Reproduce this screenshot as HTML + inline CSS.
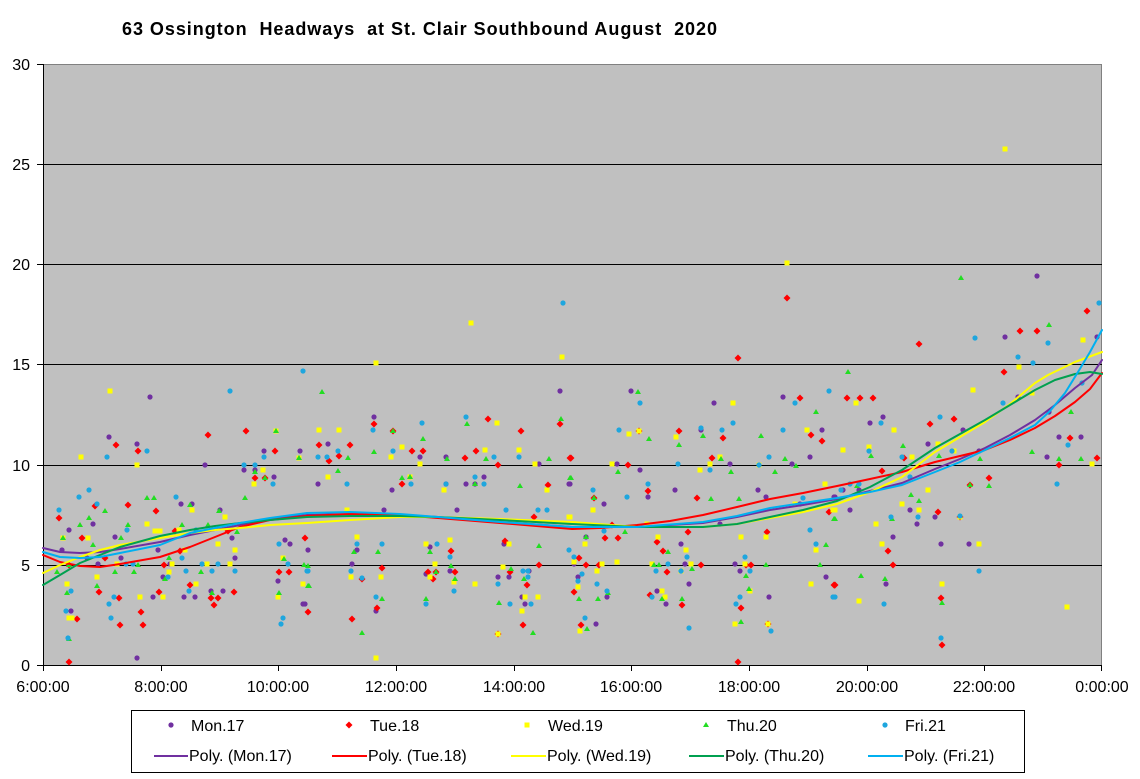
<!DOCTYPE html>
<html><head><meta charset="utf-8"><style>
html,body{margin:0;padding:0;background:#fff;}
svg{display:block;font-family:"Liberation Sans",Arial,sans-serif;}
</style></head><body>
<svg width="1140" height="779" viewBox="0 0 1140 779" xmlns="http://www.w3.org/2000/svg">
<rect x="0" y="0" width="1140" height="779" fill="#fff"/>
<text x="122" y="35" font-size="18" font-weight="bold" textLength="595" lengthAdjust="spacing" xml:space="preserve">63 Ossington  Headways  at St. Clair Southbound August  2020</text>
<rect x="43" y="64" width="1059" height="601" fill="#C0C0C0"/>
<g shape-rendering="crispEdges">
<line x1="43" y1="64.5" x2="1102" y2="64.5" stroke="#808080"/>
<line x1="1101.5" y1="64" x2="1101.5" y2="665" stroke="#808080"/>
<line x1="43" y1="164.5" x2="1102" y2="164.5" stroke="#000"/>
<line x1="43" y1="264.5" x2="1102" y2="264.5" stroke="#000"/>
<line x1="43" y1="364.5" x2="1102" y2="364.5" stroke="#000"/>
<line x1="43" y1="465.5" x2="1102" y2="465.5" stroke="#000"/>
<line x1="43" y1="565.5" x2="1102" y2="565.5" stroke="#000"/>
<line x1="43.5" y1="64" x2="43.5" y2="666" stroke="#000"/>
<line x1="43" y1="665.5" x2="1102" y2="665.5" stroke="#000"/>
<path d="M37 64.5h6M37 164.5h6M37 264.5h6M37 364.5h6M37 465.5h6M37 565.5h6M37 665.5h6" stroke="#000"/>
<path d="M43.5 665v6M161.5 665v6M278.5 665v6M396.5 665v6M514.5 665v6M631.5 665v6M749.5 665v6M867.5 665v6M984.5 665v6M1101.5 665v6" stroke="#000"/>
</g>
<g font-size="16" text-anchor="end">
<text x="30" y="70">30</text><text x="30" y="170">25</text><text x="30" y="270">20</text><text x="30" y="370">15</text><text x="30" y="471">10</text><text x="30" y="571">5</text><text x="30" y="671">0</text>
</g>
<g font-size="16" text-anchor="middle">
<text x="43" y="692">6:00:00</text><text x="161" y="692">8:00:00</text><text x="278" y="692">10:00:00</text><text x="396" y="692">12:00:00</text><text x="514" y="692">14:00:00</text><text x="631" y="692">16:00:00</text><text x="749" y="692">18:00:00</text><text x="867" y="692">20:00:00</text><text x="984" y="692">22:00:00</text><text x="1102" y="692">0:00:00</text>
</g>

<!-- Mon purple -->
<g fill="#7030A0">
<circle cx="150" cy="397" r="2.6"/><circle cx="109" cy="437" r="2.6"/><circle cx="137" cy="444" r="2.6"/><circle cx="264" cy="451" r="2.6"/><circle cx="300" cy="451" r="2.6"/><circle cx="205" cy="465" r="2.6"/><circle cx="244" cy="470" r="2.6"/><circle cx="255" cy="470" r="2.6"/><circle cx="274" cy="477" r="2.6"/><circle cx="181" cy="504" r="2.6"/><circle cx="192" cy="504" r="2.6"/><circle cx="220" cy="510" r="2.6"/><circle cx="93" cy="524" r="2.6"/><circle cx="69" cy="530" r="2.6"/><circle cx="115" cy="537" r="2.6"/><circle cx="232" cy="538" r="2.6"/><circle cx="285" cy="540" r="2.6"/><circle cx="290" cy="544" r="2.6"/><circle cx="62" cy="550" r="2.6"/><circle cx="158" cy="550" r="2.6"/><circle cx="308" cy="550" r="2.6"/><circle cx="87" cy="558" r="2.6"/><circle cx="121" cy="558" r="2.6"/><circle cx="235" cy="558" r="2.6"/><circle cx="98" cy="564" r="2.6"/><circle cx="170" cy="564" r="2.6"/><circle cx="163" cy="577" r="2.6"/><circle cx="278" cy="581" r="2.6"/><circle cx="211" cy="591" r="2.6"/><circle cx="223" cy="591" r="2.6"/><circle cx="153" cy="597" r="2.6"/><circle cx="184" cy="597" r="2.6"/><circle cx="195" cy="597" r="2.6"/><circle cx="303" cy="604" r="2.6"/><circle cx="71" cy="611" r="2.6"/><circle cx="137" cy="658" r="2.6"/>
<circle cx="560" cy="391" r="2.6"/><circle cx="374" cy="417" r="2.6"/><circle cx="328" cy="444" r="2.6"/><circle cx="420" cy="457" r="2.6"/><circle cx="446" cy="457" r="2.6"/><circle cx="539" cy="464" r="2.6"/><circle cx="410" cy="477" r="2.6"/><circle cx="484" cy="477" r="2.6"/><circle cx="318" cy="484" r="2.6"/><circle cx="446" cy="484" r="2.6"/><circle cx="466" cy="484" r="2.6"/><circle cx="475" cy="484" r="2.6"/><circle cx="569" cy="484" r="2.6"/><circle cx="392" cy="490" r="2.6"/><circle cx="384" cy="510" r="2.6"/><circle cx="457" cy="510" r="2.6"/><circle cx="357" cy="550" r="2.6"/><circle cx="430" cy="547" r="2.6"/><circle cx="504" cy="544" r="2.6"/><circle cx="352" cy="564" r="2.6"/><circle cx="426" cy="574" r="2.6"/><circle cx="450" cy="571" r="2.6"/><circle cx="529" cy="571" r="2.6"/><circle cx="498" cy="577" r="2.6"/><circle cx="509" cy="577" r="2.6"/><circle cx="522" cy="597" r="2.6"/><circle cx="525" cy="604" r="2.6"/><circle cx="305" cy="604" r="2.6"/><circle cx="376" cy="611" r="2.6"/>
<circle cx="631" cy="391" r="2.6"/><circle cx="714" cy="403" r="2.6"/><circle cx="783" cy="397" r="2.6"/><circle cx="701" cy="430" r="2.6"/><circle cx="822" cy="430" r="2.6"/><circle cx="617" cy="464" r="2.6"/><circle cx="640" cy="470" r="2.6"/><circle cx="730" cy="464" r="2.6"/><circle cx="810" cy="457" r="2.6"/><circle cx="792" cy="464" r="2.6"/><circle cx="570" cy="484" r="2.6"/><circle cx="604" cy="504" r="2.6"/><circle cx="648" cy="497" r="2.6"/><circle cx="675" cy="490" r="2.6"/><circle cx="758" cy="490" r="2.6"/><circle cx="766" cy="497" r="2.6"/><circle cx="800" cy="504" r="2.6"/><circle cx="834" cy="497" r="2.6"/><circle cx="720" cy="524" r="2.6"/><circle cx="586" cy="537" r="2.6"/><circle cx="681" cy="544" r="2.6"/><circle cx="574" cy="564" r="2.6"/><circle cx="685" cy="564" r="2.6"/><circle cx="735" cy="564" r="2.6"/><circle cx="740" cy="571" r="2.6"/><circle cx="826" cy="577" r="2.6"/><circle cx="578" cy="577" r="2.6"/><circle cx="689" cy="584" r="2.6"/><circle cx="607" cy="597" r="2.6"/><circle cx="657" cy="591" r="2.6"/><circle cx="666" cy="604" r="2.6"/><circle cx="769" cy="597" r="2.6"/><circle cx="596" cy="624" r="2.6"/>
<circle cx="1018" cy="397" r="2.6"/><circle cx="883" cy="417" r="2.6"/><circle cx="870" cy="423" r="2.6"/><circle cx="963" cy="430" r="2.6"/><circle cx="1049" cy="412" r="2.6"/><circle cx="928" cy="444" r="2.6"/><circle cx="979" cy="451" r="2.6"/><circle cx="1059" cy="437" r="2.6"/><circle cx="1081" cy="437" r="2.6"/><circle cx="1047" cy="457" r="2.6"/><circle cx="843" cy="490" r="2.6"/><circle cx="859" cy="490" r="2.6"/><circle cx="835" cy="497" r="2.6"/><circle cx="850" cy="510" r="2.6"/><circle cx="910" cy="510" r="2.6"/><circle cx="935" cy="517" r="2.6"/><circle cx="917" cy="524" r="2.6"/><circle cx="893" cy="537" r="2.6"/><circle cx="941" cy="544" r="2.6"/><circle cx="969" cy="544" r="2.6"/><circle cx="886" cy="584" r="2.6"/>
<circle cx="1037" cy="276" r="2.6"/><circle cx="1005" cy="337" r="2.6"/><circle cx="1097" cy="337" r="2.6"/>
</g>

<!-- Tue red diamonds -->
<path fill="#FF0000" d="
M116 441.5l3.5 3.5-3.5 3.5-3.5-3.5zM138 447.5l3.5 3.5-3.5 3.5-3.5-3.5zM208 431.5l3.5 3.5-3.5 3.5-3.5-3.5zM246 427.5l3.5 3.5-3.5 3.5-3.5-3.5zM275 447.5l3.5 3.5-3.5 3.5-3.5-3.5zM255 474.5l3.5 3.5-3.5 3.5-3.5-3.5zM265 474.5l3.5 3.5-3.5 3.5-3.5-3.5zM95 502.5l3.5 3.5-3.5 3.5-3.5-3.5zM128 501.5l3.5 3.5-3.5 3.5-3.5-3.5zM59 514.5l3.5 3.5-3.5 3.5-3.5-3.5zM156 507.5l3.5 3.5-3.5 3.5-3.5-3.5zM175 527.5l3.5 3.5-3.5 3.5-3.5-3.5zM82 534.5l3.5 3.5-3.5 3.5-3.5-3.5zM228 527.5l3.5 3.5-3.5 3.5-3.5-3.5zM305 534.5l3.5 3.5-3.5 3.5-3.5-3.5zM180 547.5l3.5 3.5-3.5 3.5-3.5-3.5zM105 554.5l3.5 3.5-3.5 3.5-3.5-3.5zM164 561.5l3.5 3.5-3.5 3.5-3.5-3.5zM69 561.5l3.5 3.5-3.5 3.5-3.5-3.5zM279 568.5l3.5 3.5-3.5 3.5-3.5-3.5zM289 568.5l3.5 3.5-3.5 3.5-3.5-3.5zM99 588.5l3.5 3.5-3.5 3.5-3.5-3.5zM159 588.5l3.5 3.5-3.5 3.5-3.5-3.5zM190 581.5l3.5 3.5-3.5 3.5-3.5-3.5zM234 588.5l3.5 3.5-3.5 3.5-3.5-3.5zM119 594.5l3.5 3.5-3.5 3.5-3.5-3.5zM211 594.5l3.5 3.5-3.5 3.5-3.5-3.5zM218 594.5l3.5 3.5-3.5 3.5-3.5-3.5zM214 601.5l3.5 3.5-3.5 3.5-3.5-3.5zM141 608.5l3.5 3.5-3.5 3.5-3.5-3.5zM308 608.5l3.5 3.5-3.5 3.5-3.5-3.5zM77 615.5l3.5 3.5-3.5 3.5-3.5-3.5zM120 621.5l3.5 3.5-3.5 3.5-3.5-3.5zM143 621.5l3.5 3.5-3.5 3.5-3.5-3.5zM69 658.5l3.5 3.5-3.5 3.5-3.5-3.5z
M374 420.5l3.5 3.5-3.5 3.5-3.5-3.5zM488 415.5l3.5 3.5-3.5 3.5-3.5-3.5zM560 420.5l3.5 3.5-3.5 3.5-3.5-3.5zM393 427.5l3.5 3.5-3.5 3.5-3.5-3.5zM521 427.5l3.5 3.5-3.5 3.5-3.5-3.5zM319 441.5l3.5 3.5-3.5 3.5-3.5-3.5zM350 441.5l3.5 3.5-3.5 3.5-3.5-3.5zM412 447.5l3.5 3.5-3.5 3.5-3.5-3.5zM423 447.5l3.5 3.5-3.5 3.5-3.5-3.5zM476 447.5l3.5 3.5-3.5 3.5-3.5-3.5zM339 452.5l3.5 3.5-3.5 3.5-3.5-3.5zM465 454.5l3.5 3.5-3.5 3.5-3.5-3.5zM570 454.5l3.5 3.5-3.5 3.5-3.5-3.5zM329 457.5l3.5 3.5-3.5 3.5-3.5-3.5zM498 461.5l3.5 3.5-3.5 3.5-3.5-3.5zM402 480.5l3.5 3.5-3.5 3.5-3.5-3.5zM548 481.5l3.5 3.5-3.5 3.5-3.5-3.5zM534 513.5l3.5 3.5-3.5 3.5-3.5-3.5zM451 547.5l3.5 3.5-3.5 3.5-3.5-3.5zM505 537.5l3.5 3.5-3.5 3.5-3.5-3.5zM382 564.5l3.5 3.5-3.5 3.5-3.5-3.5zM539 561.5l3.5 3.5-3.5 3.5-3.5-3.5zM362 575.5l3.5 3.5-3.5 3.5-3.5-3.5zM428 568.5l3.5 3.5-3.5 3.5-3.5-3.5zM436 568.5l3.5 3.5-3.5 3.5-3.5-3.5zM455 568.5l3.5 3.5-3.5 3.5-3.5-3.5zM433 575.5l3.5 3.5-3.5 3.5-3.5-3.5zM510 568.5l3.5 3.5-3.5 3.5-3.5-3.5zM527 581.5l3.5 3.5-3.5 3.5-3.5-3.5zM574 588.5l3.5 3.5-3.5 3.5-3.5-3.5zM377 604.5l3.5 3.5-3.5 3.5-3.5-3.5zM352 615.5l3.5 3.5-3.5 3.5-3.5-3.5zM523 621.5l3.5 3.5-3.5 3.5-3.5-3.5zM498 630.5l3.5 3.5-3.5 3.5-3.5-3.5z
M800 394.5l3.5 3.5-3.5 3.5-3.5-3.5zM639 427.5l3.5 3.5-3.5 3.5-3.5-3.5zM679 427.5l3.5 3.5-3.5 3.5-3.5-3.5zM723 434.5l3.5 3.5-3.5 3.5-3.5-3.5zM811 431.5l3.5 3.5-3.5 3.5-3.5-3.5zM822 437.5l3.5 3.5-3.5 3.5-3.5-3.5zM571 454.5l3.5 3.5-3.5 3.5-3.5-3.5zM628 461.5l3.5 3.5-3.5 3.5-3.5-3.5zM712 454.5l3.5 3.5-3.5 3.5-3.5-3.5zM594 494.5l3.5 3.5-3.5 3.5-3.5-3.5zM648 487.5l3.5 3.5-3.5 3.5-3.5-3.5zM697 494.5l3.5 3.5-3.5 3.5-3.5-3.5zM829 508.5l3.5 3.5-3.5 3.5-3.5-3.5zM612 521.5l3.5 3.5-3.5 3.5-3.5-3.5zM688 528.5l3.5 3.5-3.5 3.5-3.5-3.5zM605 534.5l3.5 3.5-3.5 3.5-3.5-3.5zM618 534.5l3.5 3.5-3.5 3.5-3.5-3.5zM657 538.5l3.5 3.5-3.5 3.5-3.5-3.5zM767 528.5l3.5 3.5-3.5 3.5-3.5-3.5zM663 547.5l3.5 3.5-3.5 3.5-3.5-3.5zM579 554.5l3.5 3.5-3.5 3.5-3.5-3.5zM586 561.5l3.5 3.5-3.5 3.5-3.5-3.5zM599 561.5l3.5 3.5-3.5 3.5-3.5-3.5zM701 561.5l3.5 3.5-3.5 3.5-3.5-3.5zM746 561.5l3.5 3.5-3.5 3.5-3.5-3.5zM751 561.5l3.5 3.5-3.5 3.5-3.5-3.5zM667 568.5l3.5 3.5-3.5 3.5-3.5-3.5zM834 581.5l3.5 3.5-3.5 3.5-3.5-3.5zM650 591.5l3.5 3.5-3.5 3.5-3.5-3.5zM682 601.5l3.5 3.5-3.5 3.5-3.5-3.5zM741 604.5l3.5 3.5-3.5 3.5-3.5-3.5zM581 621.5l3.5 3.5-3.5 3.5-3.5-3.5zM768 620.5l3.5 3.5-3.5 3.5-3.5-3.5zM738 658.5l3.5 3.5-3.5 3.5-3.5-3.5z
M1004 368.5l3.5 3.5-3.5 3.5-3.5-3.5zM847 394.5l3.5 3.5-3.5 3.5-3.5-3.5zM860 394.5l3.5 3.5-3.5 3.5-3.5-3.5zM873 394.5l3.5 3.5-3.5 3.5-3.5-3.5zM954 415.5l3.5 3.5-3.5 3.5-3.5-3.5zM930 420.5l3.5 3.5-3.5 3.5-3.5-3.5zM904 454.5l3.5 3.5-3.5 3.5-3.5-3.5zM1070 434.5l3.5 3.5-3.5 3.5-3.5-3.5zM1097 454.5l3.5 3.5-3.5 3.5-3.5-3.5zM1059 461.5l3.5 3.5-3.5 3.5-3.5-3.5zM882 467.5l3.5 3.5-3.5 3.5-3.5-3.5zM989 474.5l3.5 3.5-3.5 3.5-3.5-3.5zM970 481.5l3.5 3.5-3.5 3.5-3.5-3.5zM938 508.5l3.5 3.5-3.5 3.5-3.5-3.5zM960 513.5l3.5 3.5-3.5 3.5-3.5-3.5zM888 547.5l3.5 3.5-3.5 3.5-3.5-3.5zM893 561.5l3.5 3.5-3.5 3.5-3.5-3.5zM835 581.5l3.5 3.5-3.5 3.5-3.5-3.5zM941 594.5l3.5 3.5-3.5 3.5-3.5-3.5zM942 641.5l3.5 3.5-3.5 3.5-3.5-3.5z
M1087 307.5l3.5 3.5-3.5 3.5-3.5-3.5zM1020 327.5l3.5 3.5-3.5 3.5-3.5-3.5zM1037 327.5l3.5 3.5-3.5 3.5-3.5-3.5zM919 340.5l3.5 3.5-3.5 3.5-3.5-3.5zM787 294.5l3.5 3.5-3.5 3.5-3.5-3.5zM738 354.5l3.5 3.5-3.5 3.5-3.5-3.5z"/>

<!-- Wed yellow squares -->
<path fill="#FFFF00" d="
M107.5 388.5h5v5h-5zM78.5 454.5h5v5h-5zM273.5 428.5h5v5h-5zM134.5 462.5h5v5h-5zM260.5 467.5h5v5h-5zM251.5 481.5h5v5h-5zM189.5 507.5h5v5h-5zM222.5 514.5h5v5h-5zM144.5 521.5h5v5h-5zM152.5 528.5h5v5h-5zM157.5 528.5h5v5h-5zM176.5 527.5h5v5h-5zM85.5 535.5h5v5h-5zM60.5 535.5h5v5h-5zM215.5 541.5h5v5h-5zM182.5 547.5h5v5h-5zM232.5 547.5h5v5h-5zM280.5 555.5h5v5h-5zM114.5 561.5h5v5h-5zM169.5 561.5h5v5h-5zM204.5 561.5h5v5h-5zM227.5 561.5h5v5h-5zM166.5 569.5h5v5h-5zM94.5 574.5h5v5h-5zM300.5 581.5h5v5h-5zM64.5 581.5h5v5h-5zM193.5 581.5h5v5h-5zM137.5 594.5h5v5h-5zM160.5 594.5h5v5h-5zM275.5 594.5h5v5h-5zM66.5 615.5h5v5h-5zM69.5 615.5h5v5h-5zM296.5 455.5h5v5h-5z
M316.5 427.5h5v5h-5zM336.5 427.5h5v5h-5zM494.5 420.5h5v5h-5zM399.5 444.5h5v5h-5zM482.5 447.5h5v5h-5zM516.5 447.5h5v5h-5zM388.5 454.5h5v5h-5zM417.5 461.5h5v5h-5zM532.5 461.5h5v5h-5zM325.5 474.5h5v5h-5zM407.5 474.5h5v5h-5zM441.5 487.5h5v5h-5zM544.5 487.5h5v5h-5zM344.5 507.5h5v5h-5zM566.5 514.5h5v5h-5zM354.5 534.5h5v5h-5zM423.5 541.5h5v5h-5zM447.5 537.5h5v5h-5zM506.5 541.5h5v5h-5zM432.5 561.5h5v5h-5zM571.5 559.5h5v5h-5zM348.5 574.5h5v5h-5zM378.5 574.5h5v5h-5zM427.5 574.5h5v5h-5zM451.5 579.5h5v5h-5zM500.5 564.5h5v5h-5zM472.5 581.5h5v5h-5zM522.5 594.5h5v5h-5zM535.5 594.5h5v5h-5zM519.5 608.5h5v5h-5zM495.5 631.5h5v5h-5zM373.5 655.5h5v5h-5z
M730.5 400.5h5v5h-5zM626.5 431.5h5v5h-5zM636.5 428.5h5v5h-5zM673.5 434.5h5v5h-5zM804.5 427.5h5v5h-5zM609.5 461.5h5v5h-5zM717.5 454.5h5v5h-5zM707.5 461.5h5v5h-5zM697.5 467.5h5v5h-5zM756.5 462.5h5v5h-5zM590.5 507.5h5v5h-5zM792.5 501.5h5v5h-5zM822.5 481.5h5v5h-5zM830.5 507.5h5v5h-5zM567.5 514.5h5v5h-5zM644.5 521.5h5v5h-5zM655.5 534.5h5v5h-5zM738.5 534.5h5v5h-5zM763.5 534.5h5v5h-5zM582.5 541.5h5v5h-5zM683.5 547.5h5v5h-5zM813.5 547.5h5v5h-5zM599.5 561.5h5v5h-5zM614.5 559.5h5v5h-5zM649.5 561.5h5v5h-5zM688.5 561.5h5v5h-5zM742.5 561.5h5v5h-5zM594.5 568.5h5v5h-5zM678.5 568.5h5v5h-5zM808.5 581.5h5v5h-5zM575.5 584.5h5v5h-5zM747.5 588.5h5v5h-5zM659.5 588.5h5v5h-5zM662.5 594.5h5v5h-5zM732.5 621.5h5v5h-5zM765.5 621.5h5v5h-5zM577.5 628.5h5v5h-5z
M853.5 400.5h5v5h-5zM970.5 387.5h5v5h-5zM1029.5 390.5h5v5h-5zM840.5 447.5h5v5h-5zM866.5 444.5h5v5h-5zM891.5 427.5h5v5h-5zM909.5 454.5h5v5h-5zM935.5 441.5h5v5h-5zM951.5 448.5h5v5h-5zM1089.5 461.5h5v5h-5zM925.5 487.5h5v5h-5zM899.5 501.5h5v5h-5zM832.5 507.5h5v5h-5zM916.5 507.5h5v5h-5zM957.5 514.5h5v5h-5zM873.5 521.5h5v5h-5zM879.5 541.5h5v5h-5zM976.5 541.5h5v5h-5zM939.5 581.5h5v5h-5zM856.5 598.5h5v5h-5zM1064.5 604.5h5v5h-5z
M1002.5 146.5h5v5h-5zM1080.5 337.5h5v5h-5zM1016.5 364.5h5v5h-5zM373.5 360.5h5v5h-5zM784.5 260.5h5v5h-5zM468.5 320.5h5v5h-5zM559.5 354.5h5v5h-5z"/>

<!-- Thu green triangles -->
<path fill="#22DD22" d="
M276 428l3 5h-6zM255 469l3 5h-6zM265 475l3 5h-6zM147 495l3 5h-6zM154 495l3 5h-6zM245 495l3 5h-6zM190 502l3 5h-6zM105 508l3 5h-6zM219 508l3 5h-6zM89 515l3 5h-6zM80 522l3 5h-6zM128 522l3 5h-6zM182 522l3 5h-6zM208 522l3 5h-6zM237 529l3 5h-6zM63 535l3 5h-6zM121 535l3 5h-6zM93 542l3 5h-6zM284 556l3 5h-6zM169 555l3 5h-6zM138 562l3 5h-6zM304 562l3 5h-6zM69 562l3 5h-6zM57 569l3 5h-6zM115 569l3 5h-6zM134 569l3 5h-6zM201 569l3 5h-6zM165 576l3 5h-6zM97 583l3 5h-6zM309 583l3 5h-6zM67 590l3 5h-6zM212 590l3 5h-6zM279 590l3 5h-6zM299 455l3 5h-6zM69 636l3 5h-6z
M322 389l3 5h-6zM467 421l3 5h-6zM561 416l3 5h-6zM393 428l3 5h-6zM423 436l3 5h-6zM374 449l3 5h-6zM348 455l3 5h-6zM447 456l3 5h-6zM486 456l3 5h-6zM549 456l3 5h-6zM338 468l3 5h-6zM402 475l3 5h-6zM410 474l3 5h-6zM570 475l3 5h-6zM475 481l3 5h-6zM520 483l3 5h-6zM539 543l3 5h-6zM354 549l3 5h-6zM378 549l3 5h-6zM430 549l3 5h-6zM308 563l3 5h-6zM451 563l3 5h-6zM436 569l3 5h-6zM455 576l3 5h-6zM511 566l3 5h-6zM524 576l3 5h-6zM308 583l3 5h-6zM382 596l3 5h-6zM426 596l3 5h-6zM499 600l3 5h-6zM362 630l3 5h-6zM533 630l3 5h-6z
M638 389l3 5h-6zM816 409l3 5h-6zM649 436l3 5h-6zM679 442l3 5h-6zM703 433l3 5h-6zM761 433l3 5h-6zM721 456l3 5h-6zM618 469l3 5h-6zM731 469l3 5h-6zM775 469l3 5h-6zM785 456l3 5h-6zM796 463l3 5h-6zM571 475l3 5h-6zM594 495l3 5h-6zM711 496l3 5h-6zM739 496l3 5h-6zM834 516l3 5h-6zM625 529l3 5h-6zM586 534l3 5h-6zM826 542l3 5h-6zM668 549l3 5h-6zM654 562l3 5h-6zM659 562l3 5h-6zM692 566l3 5h-6zM766 562l3 5h-6zM820 562l3 5h-6zM746 573l3 5h-6zM749 586l3 5h-6zM579 596l3 5h-6zM598 596l3 5h-6zM608 590l3 5h-6zM662 596l3 5h-6zM682 596l3 5h-6zM741 619l3 5h-6zM587 626l3 5h-6z
M848 369l3 5h-6zM871 453l3 5h-6zM903 443l3 5h-6zM939 453l3 5h-6zM980 456l3 5h-6zM1032 449l3 5h-6zM1059 456l3 5h-6zM1081 456l3 5h-6zM1071 409l3 5h-6zM970 482l3 5h-6zM989 483l3 5h-6zM857 483l3 5h-6zM911 492l3 5h-6zM919 498l3 5h-6zM892 516l3 5h-6zM835 516l3 5h-6zM861 573l3 5h-6zM885 576l3 5h-6zM942 600l3 5h-6z
M961 275l3 5h-6zM1049 322l3 5h-6z"/>

<!-- Fri cyan -->
<g fill="#1EA6DE">
<circle cx="230" cy="391" r="2.6"/><circle cx="303" cy="371" r="2.6"/><circle cx="147" cy="451" r="2.6"/><circle cx="107" cy="457" r="2.6"/><circle cx="264" cy="457" r="2.6"/><circle cx="244" cy="465" r="2.6"/><circle cx="255" cy="465" r="2.6"/><circle cx="273" cy="484" r="2.6"/><circle cx="89" cy="490" r="2.6"/><circle cx="79" cy="497" r="2.6"/><circle cx="176" cy="497" r="2.6"/><circle cx="97" cy="504" r="2.6"/><circle cx="59" cy="510" r="2.6"/><circle cx="127" cy="530" r="2.6"/><circle cx="196" cy="530" r="2.6"/><circle cx="279" cy="544" r="2.6"/><circle cx="182" cy="558" r="2.6"/><circle cx="126" cy="564" r="2.6"/><circle cx="133" cy="564" r="2.6"/><circle cx="202" cy="564" r="2.6"/><circle cx="218" cy="564" r="2.6"/><circle cx="288" cy="564" r="2.6"/><circle cx="186" cy="571" r="2.6"/><circle cx="212" cy="571" r="2.6"/><circle cx="235" cy="571" r="2.6"/><circle cx="307" cy="571" r="2.6"/><circle cx="168" cy="577" r="2.6"/><circle cx="71" cy="591" r="2.6"/><circle cx="189" cy="591" r="2.6"/><circle cx="114" cy="597" r="2.6"/><circle cx="109" cy="604" r="2.6"/><circle cx="66" cy="611" r="2.6"/><circle cx="111" cy="618" r="2.6"/><circle cx="283" cy="618" r="2.6"/><circle cx="281" cy="624" r="2.6"/><circle cx="68" cy="638" r="2.6"/>
<circle cx="466" cy="417" r="2.6"/><circle cx="422" cy="423" r="2.6"/><circle cx="373" cy="430" r="2.6"/><circle cx="338" cy="451" r="2.6"/><circle cx="393" cy="451" r="2.6"/><circle cx="318" cy="457" r="2.6"/><circle cx="327" cy="457" r="2.6"/><circle cx="494" cy="457" r="2.6"/><circle cx="519" cy="457" r="2.6"/><circle cx="475" cy="477" r="2.6"/><circle cx="347" cy="484" r="2.6"/><circle cx="411" cy="484" r="2.6"/><circle cx="446" cy="484" r="2.6"/><circle cx="484" cy="484" r="2.6"/><circle cx="506" cy="510" r="2.6"/><circle cx="538" cy="510" r="2.6"/><circle cx="547" cy="510" r="2.6"/><circle cx="357" cy="544" r="2.6"/><circle cx="382" cy="544" r="2.6"/><circle cx="437" cy="544" r="2.6"/><circle cx="569" cy="550" r="2.6"/><circle cx="450" cy="557" r="2.6"/><circle cx="308" cy="571" r="2.6"/><circle cx="351" cy="571" r="2.6"/><circle cx="362" cy="578" r="2.6"/><circle cx="523" cy="571" r="2.6"/><circle cx="528" cy="571" r="2.6"/><circle cx="528" cy="577" r="2.6"/><circle cx="498" cy="584" r="2.6"/><circle cx="454" cy="591" r="2.6"/><circle cx="376" cy="597" r="2.6"/><circle cx="426" cy="604" r="2.6"/><circle cx="510" cy="604" r="2.6"/><circle cx="531" cy="604" r="2.6"/>
<circle cx="640" cy="403" r="2.6"/><circle cx="795" cy="403" r="2.6"/><circle cx="829" cy="391" r="2.6"/><circle cx="619" cy="430" r="2.6"/><circle cx="701" cy="428" r="2.6"/><circle cx="722" cy="430" r="2.6"/><circle cx="733" cy="423" r="2.6"/><circle cx="783" cy="430" r="2.6"/><circle cx="678" cy="464" r="2.6"/><circle cx="710" cy="470" r="2.6"/><circle cx="759" cy="465" r="2.6"/><circle cx="769" cy="457" r="2.6"/><circle cx="593" cy="490" r="2.6"/><circle cx="627" cy="497" r="2.6"/><circle cx="648" cy="484" r="2.6"/><circle cx="803" cy="498" r="2.6"/><circle cx="604" cy="531" r="2.6"/><circle cx="810" cy="530" r="2.6"/><circle cx="816" cy="544" r="2.6"/><circle cx="687" cy="557" r="2.6"/><circle cx="745" cy="557" r="2.6"/><circle cx="574" cy="557" r="2.6"/><circle cx="668" cy="564" r="2.6"/><circle cx="582" cy="574" r="2.6"/><circle cx="578" cy="581" r="2.6"/><circle cx="656" cy="571" r="2.6"/><circle cx="681" cy="571" r="2.6"/><circle cx="750" cy="571" r="2.6"/><circle cx="597" cy="584" r="2.6"/><circle cx="607" cy="591" r="2.6"/><circle cx="652" cy="597" r="2.6"/><circle cx="740" cy="597" r="2.6"/><circle cx="736" cy="604" r="2.6"/><circle cx="833" cy="597" r="2.6"/><circle cx="585" cy="618" r="2.6"/><circle cx="689" cy="628" r="2.6"/><circle cx="771" cy="631" r="2.6"/>
<circle cx="1003" cy="403" r="2.6"/><circle cx="1082" cy="383" r="2.6"/><circle cx="881" cy="423" r="2.6"/><circle cx="940" cy="417" r="2.6"/><circle cx="869" cy="451" r="2.6"/><circle cx="902" cy="457" r="2.6"/><circle cx="952" cy="451" r="2.6"/><circle cx="1068" cy="445" r="2.6"/><circle cx="910" cy="477" r="2.6"/><circle cx="1057" cy="484" r="2.6"/><circle cx="850" cy="484" r="2.6"/><circle cx="859" cy="484" r="2.6"/><circle cx="841" cy="490" r="2.6"/><circle cx="891" cy="517" r="2.6"/><circle cx="918" cy="517" r="2.6"/><circle cx="960" cy="516" r="2.6"/><circle cx="979" cy="571" r="2.6"/><circle cx="835" cy="597" r="2.6"/><circle cx="884" cy="604" r="2.6"/><circle cx="941" cy="638" r="2.6"/>
<circle cx="1099" cy="303" r="2.6"/><circle cx="975" cy="338" r="2.6"/><circle cx="1048" cy="343" r="2.6"/><circle cx="1018" cy="357" r="2.6"/><circle cx="1033" cy="363" r="2.6"/><circle cx="563" cy="303" r="2.6"/>
</g>

<!-- trendlines -->
<g fill="none" stroke-width="2" stroke-linejoin="round" stroke-linecap="round">
<polyline stroke="#7030A0" points="43,548 60,552 80,553 100,552 120,549 160,542 190,535 215,530 240,525 270,519 307,515 350,514 400,515 438,517 500,522 572,527 637,527 703,523 737,517 770,510 803,505 837,499 870,491 902,483 935,469 960,459 985,448 1010,435 1035,420 1055,405 1075,388 1092,375 1102,360"/>
<polyline stroke="#FF0000" points="43,555 60,562 80,566 100,567 120,564 160,557 190,547 215,537 240,527 270,520 307,516 350,514 400,515 438,518 500,523 572,529 600,528 637,525 670,521 703,515 737,507 770,499 803,493 837,486 870,479 902,472 935,462 960,456 985,450 1010,440 1035,428 1055,416 1075,402 1090,389 1102,373"/>
<polyline stroke="#FFFF00" points="43,573 60,565 80,557 100,550 120,545 160,538 190,533 215,530 240,528 270,525 307,523 350,520 400,517 438,517 500,519 572,522 637,527 703,527 737,524 770,518 803,512 837,504 870,492 902,477 935,452 960,437 985,422 1010,404 1035,383 1048,375 1075,362 1102,352"/>
<polyline stroke="#00A050" points="43,585 60,575 80,563 100,555 120,547 160,536 190,530 215,526 240,523 270,520 307,517 350,516 400,516 438,517 500,520 572,524 637,527 703,527 737,524 770,517 803,510 837,501 870,487 902,470 935,448 960,434 985,420 1010,405 1035,390 1055,380 1075,374 1090,372 1102,374"/>
<polyline stroke="#00B0F0" points="43,552 60,557 80,558 100,557 120,553 160,545 190,533 215,528 240,523 270,518 307,513 350,512 400,514 438,517 500,522 572,527 637,527 703,522 737,516 770,508 803,503 837,498 870,492 902,485 935,472 960,462 985,450 1010,438 1035,425 1050,411 1065,393 1078,372 1090,352 1102,330"/>
</g>

<!-- legend -->
<rect x="131.5" y="710.5" width="893" height="62" fill="#fff" stroke="#000" shape-rendering="crispEdges"/>
<circle cx="171" cy="725" r="2.6" fill="#7030A0"/>
<path d="M349 721.5l3.5 3.5-3.5 3.5-3.5-3.5z" fill="#FF0000"/>
<rect x="524.5" y="722.5" width="5" height="5" fill="#FFFF00"/>
<path d="M706 722l3 5h-6z" fill="#22DD22"/>
<circle cx="885" cy="725" r="2.6" fill="#1EA6DE"/>
<g font-size="16">
<text x="191" y="731">Mon.17</text>
<text x="370" y="731">Tue.18</text>
<text x="548" y="731">Wed.19</text>
<text x="727" y="731">Thu.20</text>
<text x="905" y="731">Fri.21</text>
<text x="189" y="761">Poly. (Mon.17)</text>
<text x="368" y="761">Poly. (Tue.18)</text>
<text x="547" y="761">Poly. (Wed.19)</text>
<text x="725" y="761">Poly. (Thu.20)</text>
<text x="904" y="761">Poly. (Fri.21)</text>
</g>
<g stroke-width="2">
<line x1="154" y1="756" x2="188" y2="756" stroke="#7030A0"/>
<line x1="332" y1="756" x2="367" y2="756" stroke="#FF0000"/>
<line x1="511" y1="756" x2="546" y2="756" stroke="#FFFF00"/>
<line x1="689" y1="756" x2="724" y2="756" stroke="#00A050"/>
<line x1="868" y1="756" x2="903" y2="756" stroke="#00B0F0"/>
</g>
</svg>
</body></html>
